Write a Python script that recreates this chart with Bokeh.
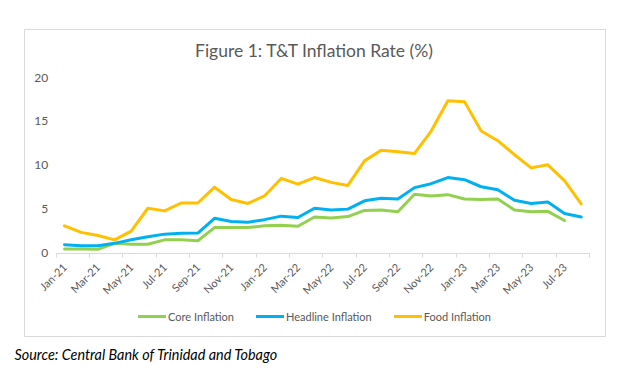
import numpy as np
from bokeh.plotting import figure
from bokeh.models import (Range1d, LinearAxis, FixedTicker, Legend, LegendItem, Label, Title)
from bokeh.embed import file_html
from bokeh.resources import INLINE

months = ["Jan-21", "Feb-21", "Mar-21", "Apr-21", "May-21", "Jun-21", "Jul-21", "Aug-21",
          "Sep-21", "Oct-21", "Nov-21", "Dec-21", "Jan-22", "Feb-22", "Mar-22", "Apr-22",
          "May-22", "Jun-22", "Jul-22", "Aug-22", "Sep-22", "Oct-22", "Nov-22", "Dec-22",
          "Jan-23", "Feb-23", "Mar-23", "Apr-23", "May-23", "Jun-23", "Jul-23", "Aug-23"]

core = [0.45, 0.45, 0.42, 1.1, 1.0, 1.0, 1.5, 1.5, 1.4, 2.9, 2.9, 2.9, 3.1, 3.15, 3.05, 4.1,
        4.0, 4.15, 4.85, 4.9, 4.7, 6.7, 6.5, 6.65, 6.15, 6.1, 6.15, 4.9, 4.7, 4.75, 3.7, np.nan]
headline = [0.95, 0.83, 0.83, 1.1, 1.5, 1.85, 2.15, 2.25, 2.27, 3.95, 3.6, 3.5, 3.8, 4.2, 4.05, 5.1,
            4.9, 5.0, 5.95, 6.25, 6.15, 7.45, 7.9, 8.6, 8.35, 7.55, 7.2, 6.0, 5.65, 5.8, 4.5, 4.1]
food = [3.1, 2.35, 2.0, 1.5, 2.5, 5.1, 4.8, 5.7, 5.7, 7.5, 6.1, 5.65, 6.5, 8.5, 7.85, 8.6,
        8.05, 7.7, 10.5, 11.7, 11.55, 11.35, 13.9, 17.35, 17.25, 13.9, 12.8, 11.2, 9.7, 10.05, 8.25, 5.6]

y_ticks = [0, 5, 10, 15, 20]

FONT = "Lato"
GREY = "#595959"
n = len(months)
x = np.arange(n) + 0.5

# chart box (frame) spans the outer bordered area; the plotting region sits inside it
px_x = (589 - 55.7) / n          # pixels per month
px_y = (252.5 - 77) / 20         # pixels per unit
x_lo = -(55.7 - 24) / px_x
x_hi = n + (605 - 589) / px_x
y_lo = -(336 - 252.5) / px_y
y_hi = 20 + (77 - 29) / px_y

p = figure(width=630, height=376, output_backend="svg", toolbar_location=None,
           x_range=Range1d(x_lo, x_hi), y_range=Range1d(y_lo, y_hi),
           x_axis_type=None, y_axis_type=None,
           min_border_left=24, min_border_right=25, min_border_top=29, min_border_bottom=40)
p.outline_line_color = "#D9D9D9"
p.outline_line_width = 1
p.xgrid.visible = False
p.ygrid.visible = False
p.background_fill_color = "white"
p.border_fill_color = "white"

xaxis = LinearAxis(ticker=FixedTicker(ticks=list(x[::2]),
                                      minor_ticks=list(np.arange(0, n + 1, 2))),
                   fixed_location=0, bounds=(0, n))
xaxis.major_label_overrides = {float(v): months[i] for i, v in enumerate(x) if i % 2 == 0}
xaxis.major_label_orientation = np.pi / 4
xaxis.major_tick_line_color = None
xaxis.minor_tick_line_color = "#D9D9D9"
xaxis.minor_tick_out = 4
xaxis.minor_tick_in = 0
xaxis.axis_line_color = "#D9D9D9"
xaxis.major_label_text_font = FONT
xaxis.major_label_text_font_size = "11px"
xaxis.major_label_text_color = GREY
xaxis.major_label_standoff = 6
p.add_layout(xaxis, "below")

yaxis = LinearAxis(ticker=FixedTicker(ticks=y_ticks), fixed_location=0, bounds=(0, 20))
yaxis.axis_line_color = None
yaxis.major_tick_line_color = None
yaxis.minor_tick_line_color = None
yaxis.major_tick_out = 0
yaxis.major_label_text_font = FONT
yaxis.major_label_text_font_size = "12px"
yaxis.major_label_text_color = GREY
yaxis.major_label_standoff = 8
p.add_layout(yaxis, "left")

r_core = p.line(x, core, line_color="#92D050", line_width=3, line_join="round", line_cap="round")
r_head = p.line(x, headline, line_color="#00B0F0", line_width=3, line_join="round", line_cap="round")
r_food = p.line(x, food, line_color="#FFC000", line_width=3, line_join="round", line_cap="round")

legend = Legend(items=[LegendItem(label="Core Inflation", renderers=[r_core]),
                       LegendItem(label="Headline Inflation", renderers=[r_head]),
                       LegendItem(label="Food Inflation", renderers=[r_food])],
                orientation="horizontal", location=(114, 13),
                glyph_width=28, glyph_height=14, label_height=14, label_standoff=2,
                spacing=22, padding=0, margin=0,
                border_line_color=None, background_fill_alpha=0,
                label_text_font=FONT, label_text_font_size="11px", label_text_color=GREY)
p.add_layout(legend, "center")

title = Label(x=290, y=286, x_units="screen", y_units="screen",
              text="Figure 1: T&T Inflation Rate (%)",
              text_font=FONT, text_font_size="17.5px", text_color=GREY,
              text_align="center", text_baseline="middle")
p.add_layout(title)

source = Title(text="Source: Central Bank of Trinidad and Tobago", align="left",
               text_font=FONT, text_font_size="14.4px", text_font_style="italic",
               text_color="black", offset=-10, standoff=14)
p.add_layout(source, "below")

open("out.html", "w").write(file_html(p, INLINE))
